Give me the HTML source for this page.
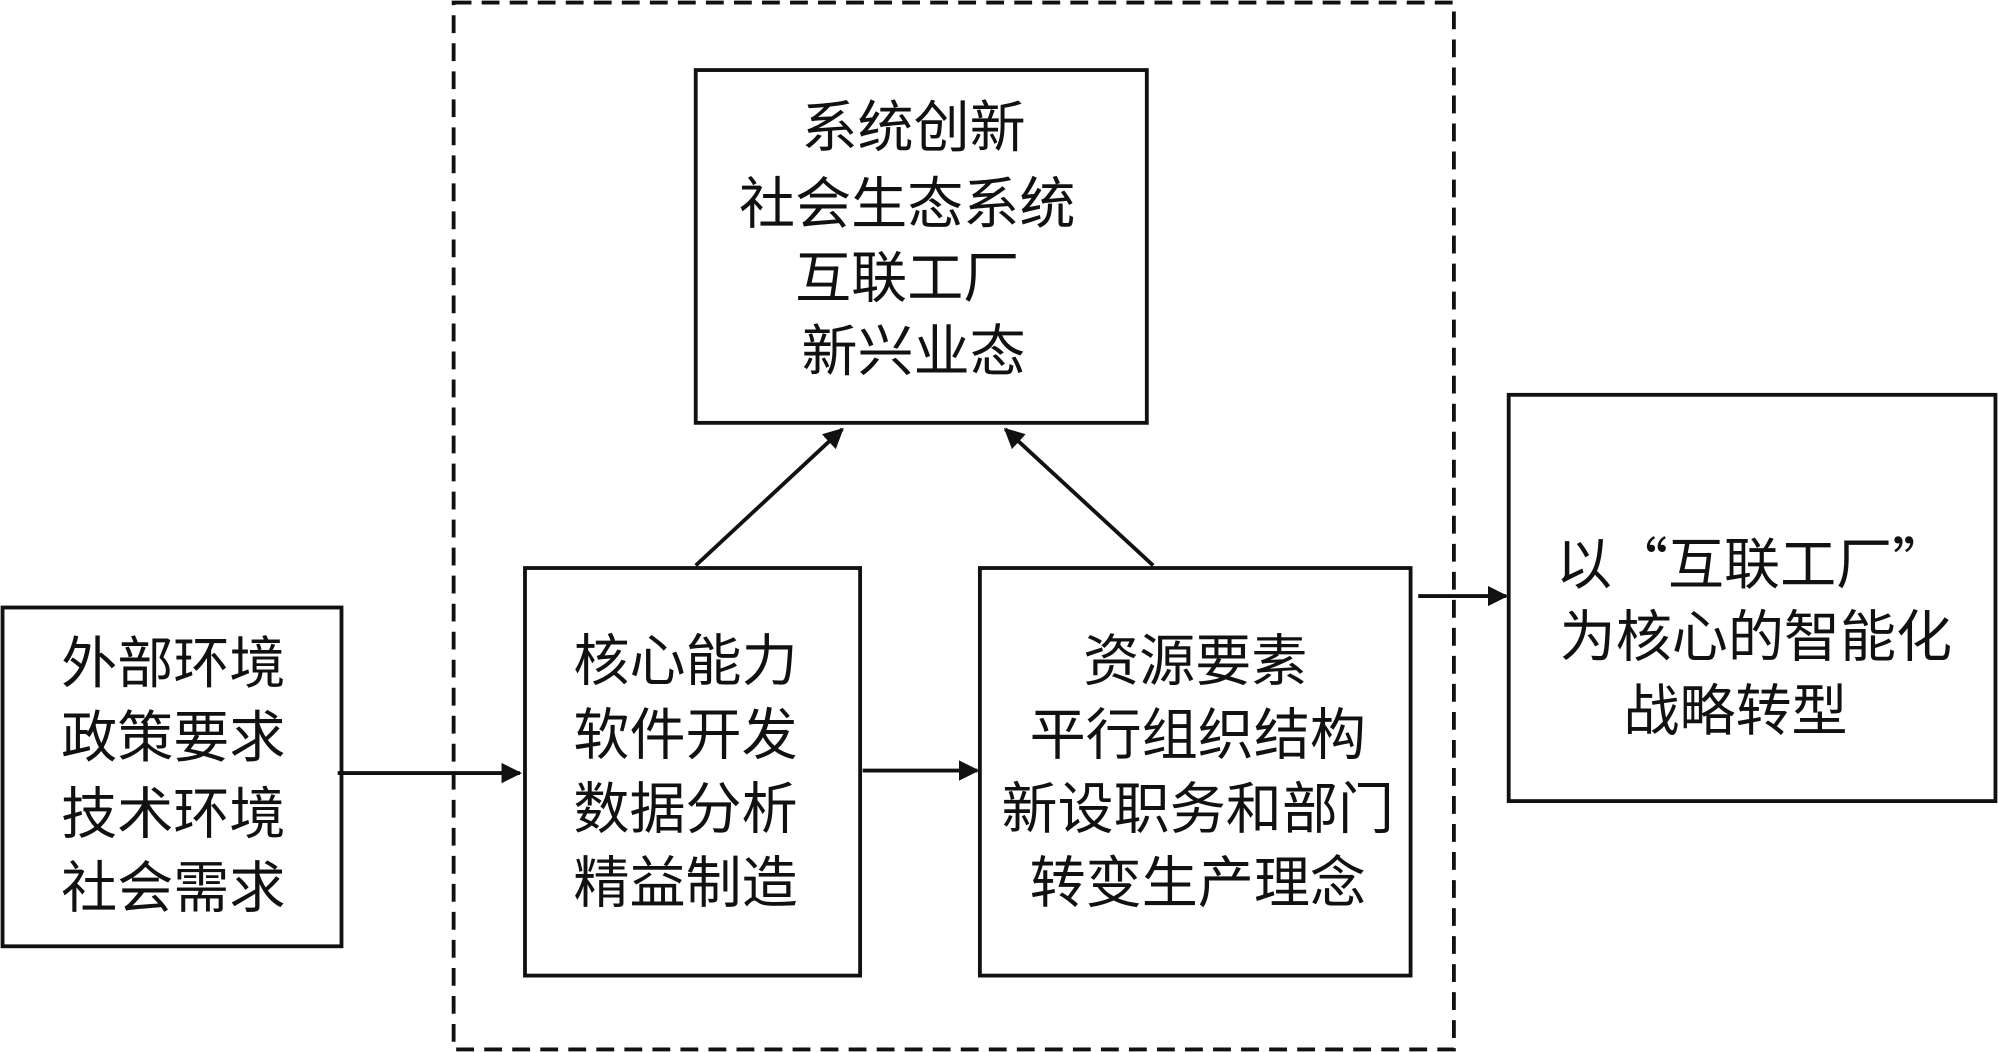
<!DOCTYPE html>
<html><head><meta charset="utf-8"><style>
html,body{margin:0;padding:0;background:#fff;}
svg{display:block;}
text{font-family:"Noto Sans CJK SC","Noto Serif CJK SC",sans-serif;font-size:44px;fill:#111;text-anchor:middle;dominant-baseline:central;}
</style></head><body>
<svg width="1998" height="1052" viewBox="0 0 1568 826" preserveAspectRatio="none" xmlns="http://www.w3.org/2000/svg">
<defs>
<marker id="b" viewBox="0 0 10 10" markerWidth="16" markerHeight="16" refX="9" refY="5" orient="auto" markerUnits="userSpaceOnUse"><path d="M0,0 L10,5 L0,10 z" fill="#111"/></marker></defs>
<rect x="356" y="2" width="785" height="822" fill="none" stroke="#111" stroke-width="3" stroke-dasharray="14,8"/>
<g fill="#fff" stroke="#111" stroke-width="3">
<rect x="546" y="55" width="354" height="277"/>
<rect x="2" y="477" width="266" height="266"/>
<rect x="412" y="446" width="263" height="320"/>
<rect x="769" y="446" width="338" height="320"/>
<rect x="1184" y="310" width="382" height="319"/>
</g>
<g stroke="#111" stroke-width="3" marker-end="url(#b)">
<line x1="265" y1="607" x2="408" y2="607"/>
<line x1="677" y1="605" x2="767" y2="605"/>
<line x1="546" y1="444" x2="661" y2="337"/>
<line x1="905" y1="444" x2="789" y2="337"/>
<line x1="1113" y1="468" x2="1182" y2="468"/>
</g>
<text x="717" y="97">系统创新</text>
<text x="712" y="157">社会生态系统</text>
<text x="712" y="215">互联工厂</text>
<text x="717" y="273">新兴业态</text>
<text x="136" y="518">外部环境</text>
<text x="136" y="576">政策要求</text>
<text x="136" y="636">技术环境</text>
<text x="136" y="694">社会需求</text>
<text x="538" y="516">核心能力</text>
<text x="538" y="574">软件开发</text>
<text x="538" y="632">数据分析</text>
<text x="538" y="690">精益制造</text>
<text x="938" y="516">资源要素</text>
<text x="940" y="574">平行组织结构</text>
<text x="940" y="632">新设职务和部门</text>
<text x="940" y="690">转变生产理念</text>
<text x="1375" y="440">以“互联工厂”</text>
<text x="1378" y="497">为核心的智能化</text>
<text x="1362" y="555">战略转型</text>
</svg>
</body></html>
